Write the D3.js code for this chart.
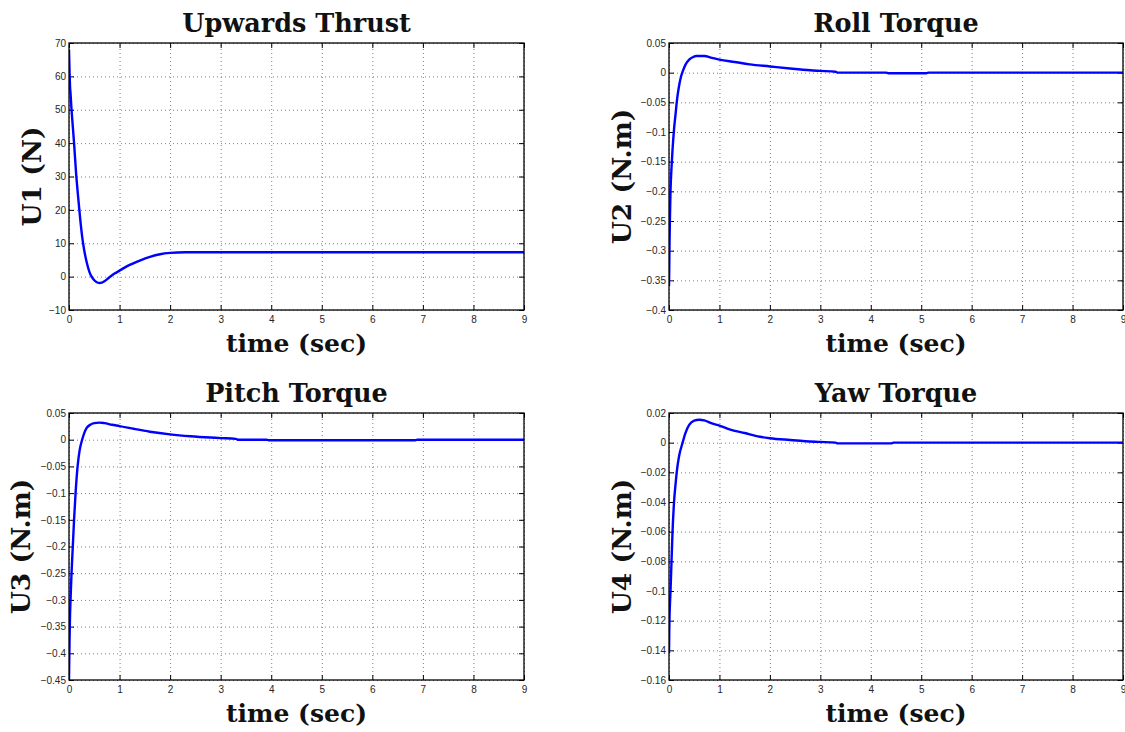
<!DOCTYPE html>
<html>
<head>
<meta charset="utf-8">
<script src="https://cdn.jsdelivr.net/npm/d3@7"></script>
<style>
	body { margin: 0; background: #fff; }
	.tick text { font-family: "Liberation Sans", Arial, sans-serif; font-size: 10px; fill: #262626; }
	.axis .tick line { stroke: #000; stroke-width: 1; }
	.grid .tick line { stroke: #808080; stroke-width: 1; stroke-dasharray: 1,3; }
	.big-label { font-family: "DejaVu Serif", serif; font-weight: bold; font-size: 25px; fill: #111; }
	.title-label { font-size: 25.5px; }
	.y-label { font-size: 26.5px; }
</style>
</head>
<body>
<svg id="chart" width="1125" height="732"></svg>
<script>
// time axis shared by all four panels
var timeTicks = [0, 1, 2, 3, 4, 5, 6, 7, 8, 9];
var timeTickLabels = ["0", "1", "2", "3", "4", "5", "6", "7", "8", "9"];

var panelTitles = ["Upwards Thrust", "Roll Torque", "Pitch Torque", "Yaw Torque"];
var panelYLabels = ["U1 (N)", "U2 (N.m)", "U3 (N.m)", "U4 (N.m)"];
var xLabel = "time (sec)";

var u1Ticks = [-10, 0, 10, 20, 30, 40, 50, 60, 70];
var u1TickLabels = ["\u221210", "0", "10", "20", "30", "40", "50", "60", "70"];
var u2Ticks = [-0.4, -0.35, -0.3, -0.25, -0.2, -0.15, -0.1, -0.05, 0, 0.05];
var u2TickLabels = ["\u22120.4", "\u22120.35", "\u22120.3", "\u22120.25", "\u22120.2", "\u22120.15", "\u22120.1", "\u22120.05", "0", "0.05"];
var u3Ticks = [-0.45, -0.4, -0.35, -0.3, -0.25, -0.2, -0.15, -0.1, -0.05, 0, 0.05];
var u3TickLabels = ["\u22120.45", "\u22120.4", "\u22120.35", "\u22120.3", "\u22120.25", "\u22120.2", "\u22120.15", "\u22120.1", "\u22120.05", "0", "0.05"];
var u4Ticks = [-0.16, -0.14, -0.12, -0.1, -0.08, -0.06, -0.04, -0.02, 0, 0.02];
var u4TickLabels = ["\u22120.16", "\u22120.14", "\u22120.12", "\u22120.1", "\u22120.08", "\u22120.06", "\u22120.04", "\u22120.02", "0", "0.02"];

var u1Time = [0, 0.01, 0.02, 0.03, 0.05, 0.07, 0.1, 0.14, 0.18, 0.22, 0.26, 0.3, 0.35, 0.4, 0.45, 0.5, 0.55, 0.6, 0.65, 0.7, 0.8, 0.9, 1.0, 1.1, 1.2, 1.4, 1.6, 1.8, 2.0, 2.3, 9];
var u1Values = [68, 62, 57, 55, 50, 46, 40, 31, 24, 17.5, 12, 8, 4.3, 1.6, -0.1, -1.1, -1.7, -1.9, -1.8, -1.4, -0.2, 0.9, 1.8, 2.7, 3.5, 4.8, 5.9, 6.7, 7.1, 7.3, 7.3];

var u2Time = [0, 0.005, 0.01, 0.02, 0.03, 0.05, 0.07, 0.1, 0.13, 0.16, 0.2, 0.24, 0.28, 0.33, 0.4, 0.47, 0.55, 0.7, 0.85, 1.0, 1.3, 1.6, 2.0, 2.4, 2.8, 3.0, 3.3, 3.35, 4.3, 4.35, 5.1, 5.15, 9];
var u2Values = [-0.36, -0.33, -0.29, -0.24, -0.2, -0.16, -0.13, -0.095, -0.07, -0.045, -0.022, -0.006, 0.004, 0.014, 0.022, 0.026, 0.028, 0.028, 0.025, 0.022, 0.018, 0.014, 0.0105, 0.007, 0.004, 0.003, 0.0015, 0, 0, -0.001, -0.001, 0, 0];

var u3Time = [0, 0.01, 0.02, 0.03, 0.05, 0.075, 0.1, 0.13, 0.17, 0.21, 0.26, 0.3, 0.35, 0.42, 0.5, 0.6, 0.7, 0.85, 1.0, 1.3, 1.6, 2.0, 2.4, 2.8, 3.0, 3.3, 3.35, 3.9, 3.95, 6.85, 6.9, 9];
var u3Values = [-0.45, -0.38, -0.33, -0.3, -0.25, -0.2, -0.15, -0.1, -0.05, -0.02, 0, 0.012, 0.022, 0.028, 0.031, 0.032, 0.031, 0.028, 0.0255, 0.02, 0.015, 0.010, 0.0065, 0.004, 0.003, 0.0015, 0, 0, -0.001, -0.001, 0, 0];

var u4Time = [0, 0.005, 0.01, 0.02, 0.03, 0.05, 0.07, 0.1, 0.13, 0.16, 0.2, 0.27, 0.32, 0.4, 0.5, 0.6, 0.7, 0.85, 1.0, 1.2, 1.5, 1.8, 2.0, 2.4, 2.7, 3.0, 3.3, 3.35, 4.4, 4.45, 9];
var u4Values = [-0.142, -0.128, -0.118, -0.108, -0.1, -0.08, -0.06, -0.04, -0.028, -0.018, -0.009, 0, 0.006, 0.012, 0.0148, 0.0155, 0.015, 0.013, 0.0115, 0.009, 0.0065, 0.004, 0.003, 0.0018, 0.001, 0.0005, 0, -0.0005, -0.0005, 0, 0];

var panelTicks = [u1Ticks, u2Ticks, u3Ticks, u4Ticks];
var panelTickLabels = [u1TickLabels, u2TickLabels, u3TickLabels, u4TickLabels];
var panelTimes = [u1Time, u2Time, u3Time, u4Time];
var panelValues = [u1Values, u2Values, u3Values, u4Values];

// plot boxes, in pixels
var boxes = [
	{ x: 69, y: 43, w: 455, h: 267, yLabelX: 41 },
	{ x: 669, y: 43, w: 454, h: 267, yLabelX: 631 },
	{ x: 69, y: 413, w: 455, h: 267, yLabelX: 30 },
	{ x: 669, y: 413, w: 454, h: 267, yLabelX: 631 }
];

function init() {
	for (var ii = 0; ii < boxes.length; ++ii) {
		drawPanel(ii);
	}
}

function drawPanel(idx) {
	var svg = d3.select("#chart");
	var box = boxes[idx];
	var yTicks = panelTicks[idx];
	var yLabels = panelTickLabels[idx];

	var x = d3.scaleLinear().domain([0, 9]).range([0, box.w]);
	var y = d3.scaleLinear().domain([yTicks[0], yTicks[yTicks.length - 1]]).range([box.h, 0]);

	var g = svg.append("g").attr("transform", "translate(" + box.x + "," + box.y + ")");

	// dotted grid
	g.append("g")
		.attr("class", "grid")
		.attr("transform", "translate(0," + box.h + ")")
		.call(d3.axisBottom(x).tickValues(timeTicks).tickSize(-box.h).tickFormat(""))
		.call(function(s) { s.select(".domain").remove(); s.selectAll("text").remove(); });
	g.append("g")
		.attr("class", "grid")
		.call(d3.axisLeft(y).tickValues(yTicks).tickSize(-box.w).tickFormat(""))
		.call(function(s) { s.select(".domain").remove(); s.selectAll("text").remove(); });

	// inward ticks on all four sides, labels on bottom and left
	g.append("g")
		.attr("class", "axis")
		.attr("transform", "translate(0," + box.h + ")")
		.call(d3.axisBottom(x).tickValues(timeTicks).tickSizeInner(-5).tickSizeOuter(0).tickPadding(6)
			.tickFormat(function(d, i) { return timeTickLabels[i]; }))
		.select(".domain").remove();
	g.append("g")
		.attr("class", "axis")
		.call(d3.axisTop(x).tickValues(timeTicks).tickSizeInner(-5).tickSizeOuter(0).tickFormat(""))
		.select(".domain").remove();
	g.append("g")
		.attr("class", "axis")
		.call(d3.axisLeft(y).tickValues(yTicks).tickSizeInner(-5).tickSizeOuter(0).tickPadding(3)
			.tickFormat(function(d, i) { return yLabels[i]; }))
		.select(".domain").remove();
	g.append("g")
		.attr("class", "axis")
		.attr("transform", "translate(" + box.w + ",0)")
		.call(d3.axisRight(y).tickValues(yTicks).tickSizeInner(-5).tickSizeOuter(0).tickFormat(""))
		.select(".domain").remove();

	// the response curve
	g.append("clipPath").attr("id", "clip" + idx)
		.append("rect").attr("width", box.w).attr("height", box.h);
	var times = panelTimes[idx];
	var line = d3.line()
		.x(function(d, i) { return x(times[i]); })
		.y(function(d) { return y(d); })
		.curve(d3.curveMonotoneX);
	g.append("path")
		.datum(panelValues[idx])
		.attr("clip-path", "url(#clip" + idx + ")")
		.attr("d", line)
		.attr("fill", "none")
		.attr("stroke", "#0000ff")
		.attr("stroke-width", 2.4)
		.attr("stroke-linejoin", "round");

	// box
	g.append("rect")
		.attr("width", box.w)
		.attr("height", box.h)
		.attr("fill", "none")
		.attr("stroke", "#000")
		.attr("stroke-width", 1.3);

	// title and axis labels
	svg.append("text")
		.attr("class", "big-label title-label")
		.attr("x", box.x + box.w / 2)
		.attr("y", box.y - 11)
		.attr("text-anchor", "middle")
		.text(panelTitles[idx]);
	svg.append("text")
		.attr("class", "big-label")
		.attr("x", box.x + box.w / 2)
		.attr("y", box.y + box.h + 42)
		.attr("text-anchor", "middle")
		.text(xLabel);
	svg.append("text")
		.attr("class", "big-label y-label")
		.attr("transform", "translate(" + box.yLabelX + "," + (box.y + box.h / 2) + ") rotate(-90)")
		.attr("text-anchor", "middle")
		.text(panelYLabels[idx]);
}

init();
</script>
</body>
</html>
